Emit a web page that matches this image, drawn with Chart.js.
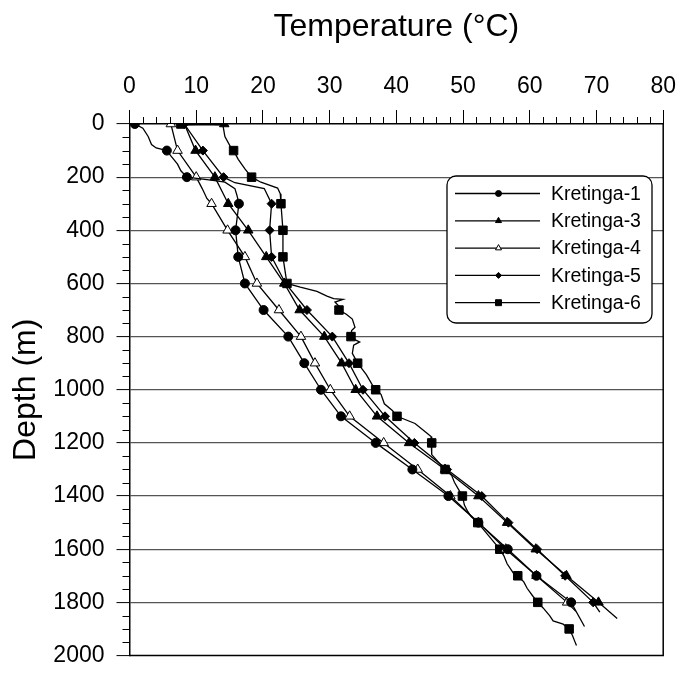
<!DOCTYPE html>
<html lang="en">
<head>
  <meta charset="UTF-8" />
  <title>Kretinga temperature logs</title>
  <script src="https://cdn.jsdelivr.net/npm/chart.js"></script>
  <style>
    body {
      margin: 0;
      padding: 0;
      background: #fff;
    }

    .chart-box {
      position: relative;
      width: 686px;
      height: 679px;
    }
  </style>
</head>
<body>
  <div class="chart-box">
    <canvas id="chart"></canvas>
  </div>

  <script>
    const wells = ['Kretinga-1', 'Kretinga-3', 'Kretinga-4', 'Kretinga-5', 'Kretinga-6'];
    const tempTicks = [0, 10, 20, 30, 40, 50, 60, 70, 80];
    const depthTicks = [0, 200, 400, 600, 800, 1000, 1200, 1400, 1600, 1800, 2000];

    // depth (m) / temperature (°C) per well, markers sit at the whole 100 m
    const k1Depth = [0, 16, 47, 77, 90, 100, 120, 151, 176, 200, 212, 219, 243, 268, 300, 400, 500, 600, 700, 800, 900, 1000, 1100, 1200, 1300, 1400, 1500, 1600, 1700, 1800, 1891];
    const k1Temp  = [0.8, 2.0, 2.8, 3.3, 4.0, 5.6, 6.2, 7.2, 7.7, 8.6, 12.5, 14.3, 15.8, 16.1, 16.4, 15.9, 16.3, 17.3, 20.1, 23.8, 26.2, 28.7, 31.7, 36.9, 42.4, 47.8, 52.3, 56.7, 61.0, 66.2, 68.2];

    const k3Depth = [0, 4, 100, 200, 300, 400, 500, 600, 700, 800, 900, 1000, 1100, 1200, 1300, 1400, 1500, 1600, 1700, 1800, 1861];
    const k3Temp  = [14.2, 8.3, 9.9, 12.8, 14.8, 17.8, 20.5, 23.2, 25.5, 29.2, 31.8, 33.9, 37.1, 41.9, 47.3, 52.3, 56.6, 60.9, 65.5, 70.3, 73.1];

    const k4Depth = [0, 100, 200, 243, 280, 300, 400, 500, 600, 700, 800, 900, 1000, 1100, 1200, 1300, 1400, 1500, 1600, 1700, 1800, 1834];
    const k4Temp  = [6.2, 7.2, 10.0, 10.9, 11.6, 12.3, 14.7, 17.3, 19.1, 22.4, 25.7, 27.8, 30.1, 33.0, 38.1, 43.2, 48.1, 52.3, 56.4, 61.0, 65.6, 66.9];

    const k5Depth = [0, 100, 200, 221, 243, 300, 400, 500, 600, 700, 800, 900, 1000, 1100, 1200, 1300, 1400, 1500, 1600, 1700, 1800, 1837];
    const k5Temp  = [8.2, 11.0, 14.1, 15.8, 20.2, 21.3, 21.0, 21.3, 23.4, 26.6, 30.4, 32.9, 35.0, 38.3, 42.7, 47.6, 52.8, 56.8, 61.1, 65.3, 69.5, 70.5];

    const k6Depth = [0, 4, 47, 84, 100, 133, 169, 200, 219, 241, 262, 300, 400, 500, 600, 614, 630, 648, 657, 660, 670, 683, 700, 716, 734, 765, 777, 800, 814, 820, 832, 863, 900, 943, 986, 1000, 1017, 1053, 1078, 1100, 1127, 1164, 1176, 1200, 1244, 1287, 1300, 1323, 1348, 1400, 1434, 1458, 1477, 1500, 1600, 1624, 1655, 1692, 1700, 1723, 1747, 1778, 1800, 1821, 1851, 1870, 1882, 1900, 1925, 1944, 1962];
    const k6Temp  = [7.7, 14.0, 14.3, 15.1, 15.6, 16.3, 17.3, 18.3, 19.7, 22.2, 22.6, 22.7, 23.0, 23.0, 23.6, 25.6, 28.1, 29.6, 30.6, 32.0, 30.8, 31.3, 31.4, 32.5, 33.4, 33.8, 33.3, 33.2, 34.0, 34.5, 33.6, 33.4, 34.2, 35.5, 36.5, 36.9, 37.7, 38.2, 39.4, 40.1, 42.8, 44.6, 45.2, 45.3, 45.3, 46.8, 47.3, 48.3, 48.7, 49.9, 50.2, 50.7, 51.2, 52.2, 55.5, 56.1, 56.6, 57.6, 58.2, 59.1, 59.6, 60.5, 61.2, 62.0, 63.0, 63.5, 65.0, 65.9, 66.4, 66.7, 67.0];

    const FONT = 'Arial, "Liberation Sans", sans-serif';

    const series = [
      { depth: k1Depth, temp: k1Temp, style: 'circle',   r: 4.5, fill: '#000', lr: 3 },
      { depth: k3Depth, temp: k3Temp, style: 'triangle', r: 5.5, fill: '#000', lr: 3.5 },
      { depth: k4Depth, temp: k4Temp, style: 'triangle', r: 5.5, fill: '#fff', lr: 3.5 },
      { depth: k5Depth, temp: k5Temp, style: 'rectRot',  r: 4.5, fill: '#000', lr: 3 },
      { depth: k6Depth, temp: k6Temp, style: 'rect',     r: 6,   fill: '#000', lr: 4.2 }
    ];

    const datasets = series.map((s, i) => ({
      label: wells[i],
      data: s.depth.map((d, j) => ({ x: s.temp[j], y: d })),
      showLine: true,
      borderColor: '#000',
      borderWidth: 1.3,
      tension: 0,
      pointStyle: s.style,
      pointRadius: c => (c.raw && c.raw.y % 100 === 0 ? s.r : 0),
      pointHoverRadius: 0,
      pointBackgroundColor: s.fill,
      pointBorderColor: '#000',
      pointBorderWidth: 1
    }));

    // minor ticks, right/bottom frame and the boxed legend
    const extras = {
      id: 'extras',
      afterDraw(chart) {
        const { ctx, chartArea: a, scales: { x, y } } = chart;
        ctx.save();
        ctx.strokeStyle = '#000';
        ctx.lineWidth = 1;
        ctx.beginPath();
        for (let t = 0; t <= 80; t += 2) {
          if (t % 10 === 0) continue;
          const px = Math.round(x.getPixelForValue(t)) + 0.5;
          ctx.moveTo(px, a.top);
          ctx.lineTo(px, a.top - 7);
        }
        for (let d = 0; d <= 2000; d += 50) {
          if (d % 200 === 0) continue;
          const py = Math.round(y.getPixelForValue(d)) + 0.5;
          ctx.moveTo(a.left, py);
          ctx.lineTo(a.left - 7, py);
        }
        ctx.stroke();

        ctx.lineWidth = 1.5;
        ctx.beginPath();
        ctx.moveTo(a.right, a.top);
        ctx.lineTo(a.right, a.bottom);
        ctx.lineTo(a.left, a.bottom);
        ctx.stroke();

        // legend box
        const bx = 447, by = 176, bw = 205, bh = 147;
        ctx.fillStyle = '#fff';
        ctx.lineWidth = 1.3;
        ctx.beginPath();
        ctx.roundRect(bx, by, bw, bh, 9);
        ctx.fill();
        ctx.stroke();

        ctx.font = '19.5px ' + FONT;
        ctx.textBaseline = 'middle';
        ctx.textAlign = 'left';
        series.forEach((s, i) => {
          const ly = 193.5 + i * 27.3;
          ctx.strokeStyle = '#000';
          ctx.lineWidth = 1.3;
          ctx.beginPath();
          ctx.moveTo(455, ly);
          ctx.lineTo(540, ly);
          ctx.stroke();
          ctx.fillStyle = s.fill;
          ctx.lineWidth = 1;
          Chart.helpers.drawPoint(ctx, { pointStyle: s.style, radius: s.lr, rotation: 0, borderWidth: 1 }, 498.5, ly);
          ctx.fillStyle = '#000';
          ctx.fillText(wells[i], 551, ly + 1);
        });
        ctx.restore();
      }
    };

    new Chart(document.getElementById('chart'), {
      type: 'scatter',
      data: { datasets },
      options: {
        responsive: true,
        maintainAspectRatio: false,
        animation: false,
        layout: { padding: { left: 0, top: 0, right: 14, bottom: 12 } },
        plugins: {
          legend: { display: false },
          tooltip: { enabled: false }
        },
        scales: {
          x: {
            type: 'linear',
            position: 'top',
            min: 0,
            max: 80,
            afterBuildTicks: s => { s.ticks = tempTicks.map(v => ({ value: v })); },
            afterFit: s => { s.height = 124; },
            border: { display: true, color: '#000', width: 1.5 },
            grid: { drawOnChartArea: false, drawTicks: true, tickLength: 14, tickColor: '#000', tickWidth: 1 },
            ticks: {
              color: '#000',
              padding: 10,
              callback: v => String(v),
              font: { family: FONT, size: 23, lineHeight: 1.2 }
            },
            title: {
              display: true,
              text: 'Temperature (°C)',
              color: '#000',
              padding: { top: 8, bottom: 0 },
              font: { family: FONT, size: 32, lineHeight: 1.2 }
            }
          },
          y: {
            type: 'linear',
            position: 'left',
            reverse: true,
            min: 0,
            max: 2000,
            afterBuildTicks: s => { s.ticks = depthTicks.map(v => ({ value: v })); },
            afterFit: s => { s.width = 129.5; },
            border: { display: true, color: '#000', width: 1.5 },
            grid: {
              drawOnChartArea: true,
              color: c => (c.tick && (c.tick.value === 0 || c.tick.value === 2000) ? 'rgba(0,0,0,0)' : '#555'),
              lineWidth: 1.2,
              drawTicks: true,
              tickLength: 13,
              tickColor: '#000',
              tickWidth: 1
            },
            ticks: {
              color: '#000',
              padding: 12,
              callback: v => String(v),
              font: { family: FONT, size: 23, lineHeight: 1.0 }
            },
            title: {
              display: true,
              text: 'Depth (m)',
              color: '#000',
              padding: { top: 7, bottom: 0 },
              font: { family: FONT, size: 32, lineHeight: 1.2 }
            }
          }
        }
      },
      plugins: [extras]
    });
  </script>
</body>
</html>
